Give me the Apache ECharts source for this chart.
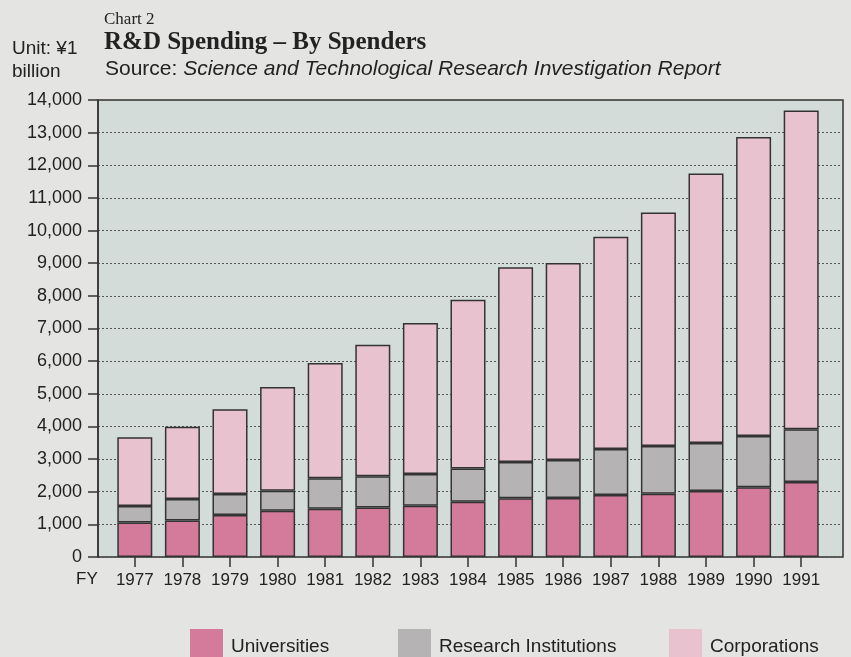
<!DOCTYPE html>
<html>
<head>
<meta charset="utf-8">
<script src="https://cdn.jsdelivr.net/npm/echarts@6/dist/echarts.min.js"></script>
<style>
  html, body { margin: 0; padding: 0; background: #e4e5e2; }
  #chart { width: 851px; height: 657px; }
</style>
</head>
<body>
<div id="chart"></div>
<script>
const years = ['1977', '1978', '1979', '1980', '1981', '1982', '1983', '1984',
  '1985', '1986', '1987', '1988', '1989', '1990', '1991']
const universities = [1060, 1120, 1290, 1420, 1480, 1520, 1570, 1690, 1800, 1810, 1900, 1940, 2020, 2140, 2300]
const institutions = [500, 660, 640, 610, 930, 950, 970, 1020, 1110, 1160, 1410, 1460, 1470, 1570, 1610]
const corporations = [2110, 2210, 2600, 3180, 3530, 4030, 4630, 5170, 5970, 6040, 6500, 7150, 8260, 9160, 9770]

const sans = '"Liberation Sans", Arial, sans-serif'
const serif = '"Liberation Serif", "Times New Roman", serif'
const ink = '#222'

const chart = echarts.init(document.getElementById('chart'))

function barSeries(name, data, color) {
  return {
    name: name,
    type: 'bar',
    stack: 'total',
    xAxisIndex: 1,
    yAxisIndex: 1,
    barWidth: 35,
    data: data,
    itemStyle: { color: color, borderColor: '#333', borderWidth: 1.5 },
    emphasis: { disabled: true }
  }
}

// one legend per item so the gaps can follow the reference
function legendItem(name, left) {
  return {
    left: left,
    top: 624,
    itemWidth: 33,
    itemHeight: 36,
    icon: 'rect',
    selectedMode: false,
    itemStyle: { borderWidth: 0 },
    textStyle: { fontFamily: sans, fontSize: 19, color: ink, padding: [0, 0, 0, 3] },
    data: [name]
  }
}

const option = {
  backgroundColor: '#e4e5e2',
  animation: false,
  title: [
    { text: 'Chart 2', left: 99, top: 6, textStyle: { fontFamily: serif, fontSize: 17, fontWeight: 'normal', color: ink } },
    { text: 'R&D Spending – By Spenders', left: 99, top: 25, textStyle: { fontFamily: serif, fontSize: 25, fontWeight: 'bold', color: ink } },
    {
      text: '{a|Source: }{b|Science and Technological Research Investigation Report}',
      left: 100, top: 54,
      textStyle: {
        rich: {
          a: { fontFamily: sans, fontSize: 21, fontWeight: 'normal', color: ink },
          b: { fontFamily: sans, fontSize: 21, fontWeight: 'normal', fontStyle: 'italic', color: ink }
        }
      }
    },
    { text: 'Unit: ¥1\nbillion', left: 7, top: 32, textStyle: { fontFamily: sans, fontSize: 19, fontWeight: 'normal', color: ink, lineHeight: 23 } }
  ],
  legend: [
    legendItem('Universities', 185),
    legendItem('Research Institutions', 393),
    legendItem('Corporations', 664)
  ],
  graphic: [
    { type: 'text', left: 76, top: 571, style: { text: 'FY', font: '17px ' + sans, fill: ink } }
  ],
  grid: [
    { left: 98, right: 8, top: 100, bottom: 100, show: true, backgroundColor: '#d4dcd9', borderColor: '#333', borderWidth: 1.5 },
    { left: 111, right: 26, top: 100, bottom: 100 }
  ],
  xAxis: [
    { type: 'value', gridIndex: 0, show: false, min: 0, max: 1 },
    {
      type: 'category',
      gridIndex: 1,
      data: years,
      axisLine: { show: false },
      axisTick: { show: true, alignWithLabel: true, length: 10, lineStyle: { color: '#333', width: 1.5 } },
      axisLabel: { interval: 0, hideOverlap: false, fontFamily: sans, fontSize: 17, color: ink, margin: 15 }
    }
  ],
  yAxis: [
    {
      type: 'value',
      gridIndex: 0,
      min: 0,
      max: 14000,
      interval: 1000,
      axisLine: { show: true, lineStyle: { color: '#333', width: 1.5 } },
      axisTick: { show: true, length: 10, lineStyle: { color: '#333', width: 1.5 } },
      axisLabel: {
        fontFamily: sans, fontSize: 18, color: ink, margin: 16,
        formatter: (v) => v.toLocaleString('en-US')
      },
      splitLine: { show: true, lineStyle: { color: '#555', width: 1, type: [2, 2] } }
    },
    { type: 'value', gridIndex: 1, min: 0, max: 14000, show: false, splitLine: { show: false } }
  ],
  series: [
    barSeries('Universities', universities, '#d47a9b'),
    barSeries('Research Institutions', institutions, '#b6b3b5'),
    barSeries('Corporations', corporations, '#e9c2d0')
  ]
}

chart.setOption(option)
</script>
</body>
</html>
